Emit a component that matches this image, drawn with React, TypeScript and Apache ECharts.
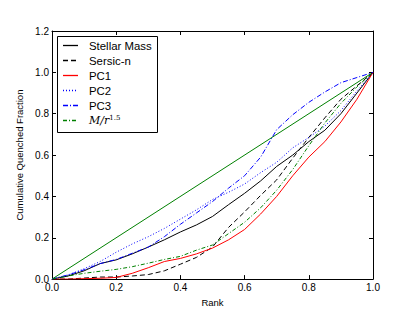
import React, { useEffect, useRef } from "react";
import * as echarts from "echarts";

// Rank grid (x values)
const rank = [0, 0.05, 0.1, 0.15, 0.2, 0.25, 0.3, 0.35, 0.4, 0.45, 0.5, 0.55, 0.6, 0.65, 0.7, 0.75, 0.8, 0.85, 0.9, 0.95, 1.0];

const seriesNames = ["Stellar Mass", "Sersic-n", "PC1", "PC2", "PC3", "M/r^1.5"];

const stellarMass = [0, 0.015, 0.04, 0.075, 0.093, 0.122, 0.155, 0.19, 0.228, 0.262, 0.303, 0.36, 0.415, 0.475, 0.545, 0.6, 0.665, 0.72, 0.8, 0.9, 1.0];
const sersicN = [0, 0, 0.005, 0.01, 0.01, 0.015, 0.022, 0.04, 0.072, 0.105, 0.155, 0.25, 0.325, 0.405, 0.48, 0.585, 0.685, 0.78, 0.87, 0.935, 1.0];
const pc1 = [0, 0, 0.002, 0.004, 0.008, 0.028, 0.055, 0.085, 0.1, 0.122, 0.15, 0.19, 0.24, 0.315, 0.4, 0.5, 0.59, 0.665, 0.76, 0.87, 1.0];
const pc2 = [0, 0.02, 0.05, 0.085, 0.13, 0.17, 0.205, 0.245, 0.29, 0.335, 0.385, 0.42, 0.46, 0.515, 0.565, 0.635, 0.685, 0.74, 0.815, 0.91, 1.0];
const pc3 = [0, 0.02, 0.045, 0.075, 0.095, 0.125, 0.155, 0.205, 0.265, 0.32, 0.375, 0.44, 0.5, 0.59, 0.723, 0.795, 0.855, 0.905, 0.95, 0.975, 1.0];
const mOverR = [0, 0.015, 0.028, 0.038, 0.047, 0.06, 0.077, 0.095, 0.11, 0.14, 0.165, 0.22, 0.275, 0.345, 0.43, 0.53, 0.645, 0.755, 0.85, 0.93, 1.0];

// Diagonal reference line
const diagonalRank = [0, 1];
const diagonalValues = [0, 1];

const seriesValues = [stellarMass, sersicN, pc1, pc2, pc3, mOverR];
const seriesColors = ["#000000", "#000000", "#ff0000", "#0000ff", "#0000ff", "#008000"];
const seriesDash: (string | number[])[] = ["solid", [5, 3], "solid", [1, 2], [5, 2, 1, 2], [4, 2, 1, 2]];

const FONT = "Liberation Sans";

function pairs(xs: number[], ys: number[]) {
  return xs.map((x, i) => [x, ys[i]]);
}

export default function App() {
  const ref = useRef<HTMLDivElement>(null);
  useEffect(() => {
    if (!ref.current) return;
    const chart = echarts.init(ref.current, null, { renderer: "svg" });

    const gridLeft = 52, gridTop = 31, gridRight = 42, gridBottom = 32;

    const series: any[] = seriesNames.map((name, i) => ({
      name,
      type: "line",
      data: pairs(rank, seriesValues[i]),
      showSymbol: false,
      symbol: "none",
      lineStyle: { color: seriesColors[i], width: 1, type: seriesDash[i] },
      z: 3,
    }));
    series.push({
      name: "diagonal",
      type: "line",
      data: pairs(diagonalRank, diagonalValues),
      showSymbol: false,
      symbol: "none",
      lineStyle: { color: "#008000", width: 1, type: "solid" },
      z: 2,
    });

    // Legend drawn as graphic
    const lx = 57, ly = 36, lw = 100, lh = 96, row = 15;
    const graphic: any[] = [
      {
        type: "rect",
        shape: { x: lx + 0.5, y: ly + 0.5, width: lw, height: lh },
        style: { fill: "#ffffff", stroke: "#000000", lineWidth: 1 },
        z: 100,
      },
    ];
    seriesNames.forEach((name, i) => {
      const y = ly + 9.5 + row * i;
      const dash = seriesDash[i];
      const lineStyle: any = { stroke: seriesColors[i], fill: "none", lineWidth: 1.3 };
      if (Array.isArray(dash)) lineStyle.lineDash = dash;
      graphic.push({
        type: "polyline",
        shape: { points: [[63, y], [78, y]] },
        style: lineStyle,
        z: 101,
      });
      if (name === "M/r^1.5") {
        graphic.push({
          type: "text",
          x: 89,
          y: y,
          style: {
            text: "{i|M/r}{s|1.5}",
            fill: "#000",
            verticalAlign: "middle",
            align: "left",
            rich: {
              i: { font: "italic 11px 'DejaVu Serif'", fill: "#000" },
              s: { font: "7px 'DejaVu Serif'", verticalAlign: "top", fill: "#000", padding: [0, 0, 6, 0] },
            },
          },
          z: 101,
        });
      } else {
        graphic.push({
          type: "text",
          x: 89,
          y: y,
          style: {
            text: name,
            fill: "#000",
            font: "11.4px 'Liberation Sans'",
            verticalAlign: "middle",
            align: "left",
          },
          z: 101,
        });
      }
    });

    const axisCommon = {
      type: "value",
      splitLine: { show: false },
      axisLine: { show: true, onZero: false, lineStyle: { color: "#000", width: 1 } },
      axisTick: { show: true, inside: true, length: 4, lineStyle: { color: "#000", width: 1 } },
    };

    chart.setOption({
      animation: false,
      backgroundColor: "#ffffff",
      grid: { left: gridLeft, top: gridTop, right: gridRight, bottom: gridBottom },
      xAxis: [
        {
          ...axisCommon,
          min: 0,
          max: 1,
          interval: 0.2,
          position: "bottom",
          name: "Rank",
          nameLocation: "middle",
          nameGap: 13,
          nameTextStyle: { fontFamily: FONT, fontSize: 9.5, color: "#000000" },
          axisLabel: {
            fontFamily: FONT,
            fontSize: 10,
            color: "#000",
            margin: 3,
            formatter: (v: number) => v.toFixed(1),
          },
        },
        {
          ...axisCommon,
          min: 0,
          max: 1,
          interval: 0.2,
          position: "top",
          axisLabel: { show: false },
        },
      ],
      yAxis: [
        {
          ...axisCommon,
          min: 0,
          max: 1.2,
          interval: 0.2,
          position: "left",
          name: "Cumulative Quenched Fraction",
          nameLocation: "middle",
          nameGap: 20,
          nameTextStyle: { fontFamily: FONT, fontSize: 9.5, color: "#000000" },
          axisLabel: {
            fontFamily: FONT,
            fontSize: 10,
            color: "#000",
            margin: 3,
            formatter: (v: number) => v.toFixed(1),
          },
        },
        {
          ...axisCommon,
          min: 0,
          max: 1.2,
          interval: 0.2,
          position: "right",
          axisLabel: { show: false },
        },
      ],
      series,
      graphic,
    });

    return () => chart.dispose();
  }, []);

  return (
    <div
      ref={ref}
      style={{ position: "fixed", left: 0, top: 0, width: 415, height: 312, background: "#fff" }}
    />
  );
}
